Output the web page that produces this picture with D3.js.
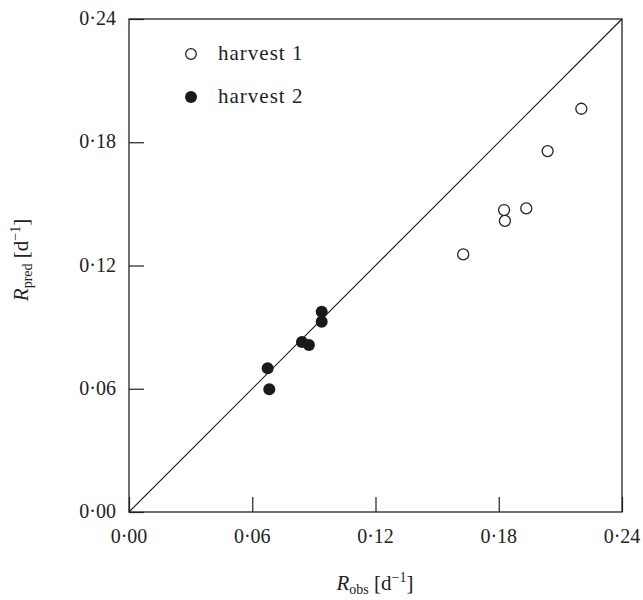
<!DOCTYPE html>
<html>
<head>
<meta charset="utf-8">
<script src="https://cdn.jsdelivr.net/npm/d3@7"></script>
<style>
  body { margin: 0; background: #fff; }
  svg text { font-family: "Liberation Serif", "DejaVu Serif", "Times New Roman", serif; fill: #222; }
</style>
</head>
<body>
<div id="chart"></div>
<script>
// values
const harvest1Obs = [0.2202, 0.2038, 0.1934, 0.1826, 0.1830, 0.1627];
const harvest1Pred = [0.1963, 0.1757, 0.1478, 0.1470, 0.1417, 0.1254];
const harvest2Obs = [0.0938, 0.0938, 0.0842, 0.0876, 0.0675, 0.0683];
const harvest2Pred = [0.0975, 0.0926, 0.0828, 0.0813, 0.0700, 0.0597];
const tickValues = [0, 0.06, 0.12, 0.18, 0.24];
const legendLabels = ["harvest 1", "harvest 2"];

const width = 643, height = 600;
const margin = { left: 129, right: 21, top: 19, bottom: 88 };

const svg = d3.select("#chart").append("svg").attr("width", width).attr("height", height);

const x = d3.scaleLinear().domain([0, 0.24]).range([margin.left, width - margin.right]);
const y = d3.scaleLinear().domain([0, 0.24]).range([height - margin.bottom, margin.top]);

const fmt = (d) => d3.format(".2f")(d).replace(".", "\u00B7");

// inward ticks, labels outside
const xAxis = svg.append("g")
  .attr("transform", `translate(0,${y(0)})`)
  .call(d3.axisTop(x).tickValues(tickValues).tickSize(15).tickFormat(""));
const yAxis = svg.append("g")
  .attr("transform", `translate(${x(0)},0)`)
  .call(d3.axisRight(y).tickValues(tickValues).tickSize(15).tickFormat(""));
[xAxis, yAxis].forEach(g => {
  g.select(".domain").remove();
  g.selectAll("line").attr("stroke", "#222").attr("stroke-width", 1.2);
});

svg.selectAll(".xlab").data(tickValues).join("text")
  .attr("class", "xlab")
  .attr("x", d => x(d)).attr("y", y(0) + 31)
  .attr("text-anchor", "middle").attr("font-size", 20)
  .text(fmt);
svg.selectAll(".ylab").data(tickValues).join("text")
  .attr("class", "ylab")
  .attr("x", x(0) - 13).attr("y", d => y(d) + 6)
  .attr("text-anchor", "end").attr("font-size", 20)
  .text(fmt);

// frame
svg.append("rect")
  .attr("x", x(0)).attr("y", y(0.24))
  .attr("width", x(0.24) - x(0)).attr("height", y(0) - y(0.24))
  .attr("fill", "none").attr("stroke", "#222").attr("stroke-width", 1.3);

// 1:1 line
svg.append("line")
  .attr("x1", x(0)).attr("y1", y(0)).attr("x2", x(0.24)).attr("y2", y(0.24))
  .attr("stroke", "#222").attr("stroke-width", 1.2);

// points
svg.selectAll(".h1").data(d3.zip(harvest1Obs, harvest1Pred)).join("circle")
  .attr("class", "h1")
  .attr("cx", d => x(d[0])).attr("cy", d => y(d[1])).attr("r", 5.5)
  .attr("fill", "#fff").attr("stroke", "#222").attr("stroke-width", 1.3);
svg.selectAll(".h2").data(d3.zip(harvest2Obs, harvest2Pred)).join("circle")
  .attr("class", "h2")
  .attr("cx", d => x(d[0])).attr("cy", d => y(d[1])).attr("r", 6)
  .attr("fill", "#1a1a1a");

// legend
const legend = svg.append("g");
legendLabels.forEach((lab, i) => {
  const ly = 54 + i * 43;
  legend.append("circle")
    .attr("cx", 191).attr("cy", ly).attr("r", i == 0 ? 5.3 : 6)
    .attr("fill", i == 0 ? "#fff" : "#1a1a1a")
    .attr("stroke", i == 0 ? "#222" : "none").attr("stroke-width", 1.3);
  legend.append("text")
    .attr("x", 218).attr("y", ly + 6).attr("font-size", 21)
    .attr("letter-spacing", 1)
    .text(lab);
});

// axis titles
const xt = svg.append("text")
  .attr("x", 375).attr("y", 590).attr("text-anchor", "middle").attr("font-size", 21);
xt.append("tspan").attr("font-style", "italic").text("R");
xt.append("tspan").attr("font-size", 14).attr("dy", 4).text("obs");
xt.append("tspan").attr("dy", -4).text(" [d");
xt.append("tspan").attr("font-size", 14).attr("dy", -8).text("\u22121");
xt.append("tspan").attr("dy", 8).text("]");

const yt = svg.append("text")
  .attr("transform", "translate(28,260) rotate(-90)")
  .attr("text-anchor", "middle").attr("font-size", 21);
yt.append("tspan").attr("font-style", "italic").text("R");
yt.append("tspan").attr("font-size", 14).attr("dy", 4).text("pred");
yt.append("tspan").attr("dy", -4).text(" [d");
yt.append("tspan").attr("font-size", 14).attr("dy", -8).text("\u22121");
yt.append("tspan").attr("dy", 8).text("]");
</script>
</body>
</html>
